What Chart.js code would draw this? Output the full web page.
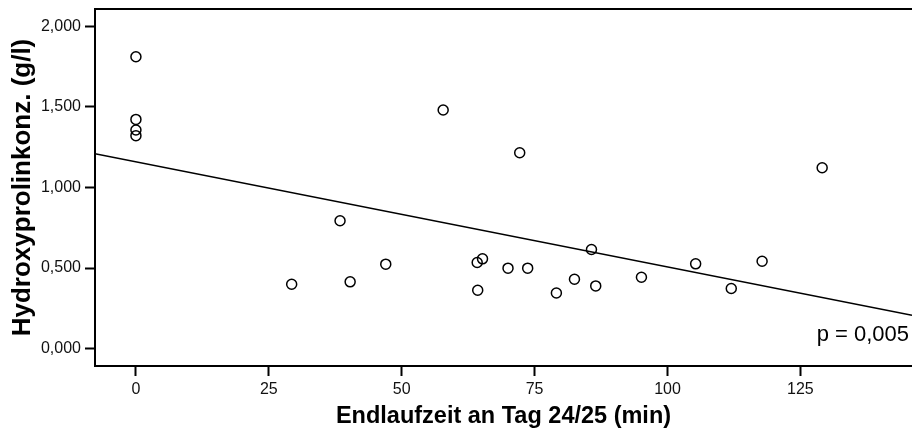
<!DOCTYPE html>
<html>
<head>
<meta charset="utf-8">
<script src="https://cdn.jsdelivr.net/npm/chart.js@4/dist/chart.umd.min.js"></script>
<style>
  html, body { margin: 0; padding: 0; background: #fff; overflow: hidden; }
  #wrap { width: 912px; height: 432px; }
</style>
</head>
<body>
<div id="wrap"><canvas id="c" width="912" height="432"></canvas></div>
<script>
// Endlaufzeit an Tag 24/25 (min) per subject
const endlaufzeit = [0, 0, 0, 0, 29.3, 38.4, 40.3, 47.0, 57.8, 64.2, 65.2, 64.3, 70.0,
  72.2, 73.7, 79.1, 82.5, 85.7, 86.5, 95.1, 105.3, 112.0, 117.8, 129.1];
// Hydroxyprolin concentration (g/l) per subject
const hydroxyprolin = [1.811, 1.422, 1.356, 1.321, 0.399, 0.793, 0.414, 0.524, 1.480, 0.534,
  0.557, 0.362, 0.499, 1.215, 0.499, 0.345, 0.430, 0.615, 0.389, 0.443, 0.526, 0.373, 0.542, 1.122];

// Linear fit line
const fitIntercept = 1.159;
const fitSlope = -0.00652;
const pText = 'p = 0,005';

// Axis ranges and ticks
const xRange = [-7.7, 146.0];
const yRange = [-0.108, 2.107];
const xTickValues = [0, 25, 50, 75, 100, 125];
const xTickLabels = ['0', '25', '50', '75', '100', '125'];
const yTickValues = [0, 0.5, 1, 1.5, 2];
const yTickLabels = ['0,000', '0,500', '1,000', '1,500', '2,000'];

const xTitle = 'Endlaufzeit an Tag 24/25 (min)';
const yTitle = 'Hydroxyprolinkonz. (g/l)';

const points = endlaufzeit.map((x, i) => ({ x, y: hydroxyprolin[i] }));
const fitLine = xRange.map(x => ({ x, y: fitIntercept + fitSlope * x }));

const FONT = "'Liberation Sans', Arial, Helvetica, sans-serif";

// Top frame line and p-value annotation
const framePlugin = {
  id: 'frame',
  afterDraw(chart) {
    const { ctx, chartArea } = chart;
    ctx.save();
    ctx.strokeStyle = '#000';
    ctx.lineWidth = 2;
    ctx.beginPath();
    ctx.moveTo(chartArea.left - 1, chartArea.top);
    ctx.lineTo(chartArea.right, chartArea.top);
    ctx.stroke();
    ctx.fillStyle = '#000';
    ctx.font = '22px ' + FONT;
    ctx.textAlign = 'right';
    ctx.textBaseline = 'alphabetic';
    ctx.fillText(pText, chartArea.right - 3, chartArea.bottom - 25);
    ctx.restore();
  }
};

function fixedTicks(values) {
  return scale => { scale.ticks = values.map(v => ({ value: v })); };
}

new Chart(document.getElementById('c'), {
  type: 'scatter',
  data: {
    datasets: [
      {
        type: 'line',
        data: fitLine,
        borderColor: '#000',
        borderWidth: 1.5,
        pointRadius: 0,
        fill: false,
        order: 2
      },
      {
        data: points,
        pointStyle: 'circle',
        pointRadius: 5,
        pointBorderWidth: 1.5,
        pointBorderColor: '#000',
        pointBackgroundColor: 'rgba(255,255,255,0)',
        order: 1
      }
    ]
  },
  options: {
    responsive: false,
    animation: false,
    devicePixelRatio: 1,
    layout: { autoPadding: false, padding: { top: 9, right: 0, bottom: 0, left: 0 } },
    plugins: { legend: { display: false }, tooltip: { enabled: false } },
    scales: {
      x: {
        type: 'linear',
        min: xRange[0],
        max: xRange[1],
        afterBuildTicks: fixedTicks(xTickValues),
        afterFit: s => { s.height = 66; s.paddingLeft = 0; s.paddingRight = 0; },
        border: { display: true, color: '#000', width: 2 },
        grid: { drawOnChartArea: false, drawTicks: true, tickLength: 10, tickColor: '#000', tickWidth: 2 },
        ticks: {
          color: '#111',
          padding: 4,
          maxRotation: 0,
          font: { family: FONT, size: 16 },
          callback: (v) => xTickLabels[xTickValues.indexOf(v)]
        },
        title: {
          display: true,
          text: xTitle,
          color: '#000',
          padding: { top: 0, bottom: 1 },
          font: { family: FONT, size: 23.5, weight: 'bold' }
        }
      },
      y: {
        type: 'linear',
        min: yRange[0],
        max: yRange[1],
        afterBuildTicks: fixedTicks(yTickValues),
        afterFit: s => { s.width = 95; s.paddingTop = 0; s.paddingBottom = 0; },
        border: { display: true, color: '#000', width: 2 },
        grid: { drawOnChartArea: false, drawTicks: true, tickLength: 10, tickColor: '#000', tickWidth: 2 },
        ticks: {
          color: '#111',
          padding: 4,
          font: { family: FONT, size: 16 },
          callback: (v) => yTickLabels[yTickValues.indexOf(v)]
        },
        title: {
          display: true,
          text: yTitle,
          color: '#000',
          padding: { top: 7, bottom: 0 },
          font: { family: FONT, size: 26, weight: 'bold' }
        }
      }
    }
  },
  plugins: [framePlugin]
});
</script>
</body>
</html>
